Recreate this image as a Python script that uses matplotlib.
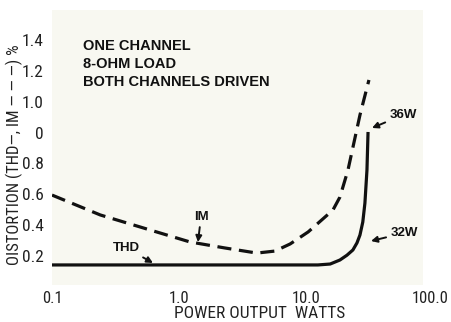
import matplotlib
matplotlib.use("Agg")
import matplotlib.pyplot as plt
from matplotlib import font_manager
from matplotlib.patches import Rectangle
from matplotlib.transforms import ScaledTranslation

# Power output (W) and distortion readings
thd_watts = [0.1, 5.0, 12.4, 15.5, 18.5, 21.0, 23.4, 25.2, 26.6, 28.0, 29.1, 30.2, 30.8]
thd_pct = [0.142, 0.142, 0.142, 0.148, 0.174, 0.205, 0.239, 0.285, 0.336, 0.420, 0.543, 0.757, 1.004]

im_watts = [0.1, 0.24, 0.59, 1.22, 2.3, 4.1, 5.7, 7.5, 10.4, 16.3, 18.5, 21.4, 26.6, 31.3]
im_pct = [0.595, 0.466, 0.369, 0.291, 0.252, 0.219, 0.232, 0.278, 0.356, 0.498, 0.582, 0.757, 1.114, 1.341]

y_tick_pos = [0.2, 0.4, 0.6, 0.8, 1.0, 1.2, 1.4, 1.6]
y_tick_labels = ["0.2", "0.4", "0.6", "0.8", "0", "1.0", "1.2", "1.4"]
x_tick_pos = [0.1, 1.0, 10.0, 100.0]
x_tick_labels = ["0.1", "1.0", "10.0", "100.0"]

notes = ["ONE CHANNEL", "8-OHM LOAD", "BOTH CHANNELS DRIVEN"]

available = {f.name for f in font_manager.fontManager.ttflist}
narrow_family = next((n for n in ["Roboto Condensed", "Archivo Narrow", "Liberation Sans Narrow"]
                      if n in available), "DejaVu Sans")
narrow = dict(family=narrow_family)
bold_font = "Liberation Sans" if "Liberation Sans" in available else "DejaVu Sans"

W, H = 451, 322
fig = plt.figure(figsize=(W / 100, H / 100), dpi=100)
fig.patch.set_facecolor("white")
ax = fig.add_axes([52 / W, 1 - 285 / H, (433 - 52) / W, (285 - 5) / H])
ax.set_xscale("log")
ax.set_xlim(0.1, 100)
ax.set_ylim(0.012, 1.827)
ax.patch.set_visible(False)
for s in ax.spines.values():
    s.set_visible(False)

ax.add_patch(Rectangle((0, 0), (423 - 52) / (433 - 52), 0.982, transform=ax.transAxes,
                       facecolor="#f8f8f1", edgecolor="none", zorder=0))

ax.plot(thd_watts, thd_pct, color="#111111", lw=2.3, solid_capstyle="butt", zorder=3)
ax.plot(im_watts, im_pct, color="#111111", lw=2.3, dashes=(4.4, 2.4), zorder=3)

ax.set_xticks(x_tick_pos)
ax.set_xticklabels(x_tick_labels, fontsize=12, color="#222222", **narrow)
ax.xaxis.set_minor_locator(matplotlib.ticker.NullLocator())
ax.set_yticks(y_tick_pos)
ax.set_yticklabels(y_tick_labels, fontsize=12.5, color="#222222", **narrow)
ax.tick_params(length=0)
ax.tick_params(axis="x", pad=4)
ax.tick_params(axis="y", pad=6)
# keep the last decade label inside the canvas
last = ax.get_xticklabels()[-1]
last.set_transform(last.get_transform() + ScaledTranslation(-3 / 100, 0, fig.dpi_scale_trans))

fig.text(260 / W, 1 - 313 / H, "POWER OUTPUT  WATTS", ha="center", va="center",
         fontsize=12.5, color="#222222", **narrow)
fig.text(14.5 / W, 1 - 155 / H, "OISTORTION (THD\u2014, IM \u2014 \u2014 \u2014) %",
         rotation=90, ha="center", va="center", fontsize=12, color="#222222", **narrow)

for txt, yv in zip(notes, [1.560, 1.443, 1.327]):
    ax.text(0.175, yv, txt, ha="left", va="center", fontsize=10.5,
            fontweight="bold", family=bold_font, color="#111111")

arrow = dict(arrowstyle="-|>", color="#111111", lw=1.4, mutation_scale=9,
             shrinkA=1, shrinkB=0)
lbl = dict(ha="center", va="center", fontsize=9.5, fontweight="bold",
           family=bold_font, color="#111111")
ax.annotate("IM", xy=(1.41, 0.29), xytext=(1.49, 0.453), arrowprops=arrow, **lbl)
ax.annotate("THD", xy=(0.624, 0.155), xytext=(0.383, 0.252), arrowprops=arrow, **lbl)
ax.annotate("36W", xy=(33.1, 1.03), xytext=(58, 1.114), arrowprops=arrow, **lbl)
ax.annotate("32W", xy=(32.5, 0.297), xytext=(59, 0.349), arrowprops=arrow, **lbl)

fig.savefig("out.png", dpi=100, facecolor="white")
